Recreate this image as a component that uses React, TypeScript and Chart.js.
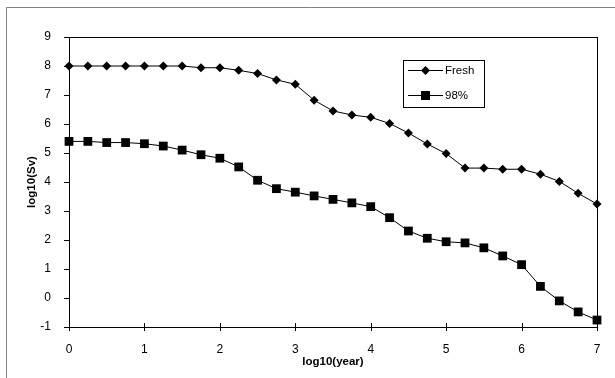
import React, { useEffect, useRef } from "react";
import { Chart, registerables } from "chart.js";

Chart.register(...registerables);

const xValues = [0, 0.25, 0.5, 0.75, 1, 1.25, 1.5, 1.75, 2, 2.25, 2.5, 2.75, 3, 3.25, 3.5, 3.75, 4, 4.25, 4.5, 4.75, 5, 5.25, 5.5, 5.75, 6, 6.25, 6.5, 6.75, 7];
const freshValues = [8.0, 8.0, 8.0, 8.0, 8.0, 8.0, 8.0, 7.94, 7.94, 7.85, 7.74, 7.52, 7.37, 6.82, 6.45, 6.31, 6.23, 6.02, 5.69, 5.31, 4.98, 4.48, 4.48, 4.44, 4.44, 4.27, 4.02, 3.61, 3.24];
const pct98Values = [5.4, 5.4, 5.36, 5.36, 5.32, 5.24, 5.1, 4.94, 4.82, 4.52, 4.06, 3.77, 3.65, 3.52, 3.4, 3.28, 3.15, 2.77, 2.31, 2.06, 1.94, 1.9, 1.73, 1.45, 1.15, 0.4, -0.1, -0.48, -0.76];
const seriesLabels = ["Fresh", "98%"];
const xTitle = "log10(year)";
const yTitle = "log10(Sv)";

const FONT = "'Liberation Sans', Arial, Helvetica, sans-serif";

const decorPlugin = {
  id: "decor",
  beforeDraw(chart: any) {
    const ctx = chart.ctx;
    ctx.save();
    ctx.fillStyle = "#ffffff";
    ctx.fillRect(0, 0, chart.width, chart.height);
    ctx.strokeStyle = "#808080";
    ctx.lineWidth = 1;
    ctx.beginPath();
    ctx.moveTo(6.5, chart.height);
    ctx.lineTo(6.5, 7.5);
    ctx.lineTo(chart.width, 7.5);
    ctx.stroke();
    ctx.restore();
  },
  afterDraw(chart: any) {
    const ctx = chart.ctx;
    const { left, right, top, bottom } = chart.chartArea;
    ctx.save();
    ctx.strokeStyle = "#000";
    ctx.lineWidth = 1;
    ctx.strokeRect(Math.round(left) + 0.5, Math.round(top) + 0.5, Math.round(right - left), Math.round(bottom - top));
    const xs = chart.scales.x;
    const ys = chart.scales.y;
    ctx.beginPath();
    xs.ticks.forEach((t: any) => {
      const px = Math.round(xs.getPixelForValue(t.value)) + 0.5;
      ctx.moveTo(px, bottom - 4);
      ctx.lineTo(px, bottom + 4);
    });
    ys.ticks.forEach((t: any) => {
      const py = Math.round(ys.getPixelForValue(t.value)) + 0.5;
      ctx.moveTo(left - 5, py);
      ctx.lineTo(left, py);
    });
    ctx.stroke();

    // legend
    const lx = 403.5, ly = 60.5, lw = 81, lh = 47;
    ctx.strokeRect(lx, ly, lw, lh);
    const rows = [70.5, 95.5];
    chart.data.datasets.forEach((ds: any, i: number) => {
      const y = rows[i];
      ctx.beginPath();
      ctx.moveTo(408, y);
      ctx.lineTo(443, y);
      ctx.strokeStyle = "#000";
      ctx.lineWidth = 1;
      ctx.stroke();
      ctx.fillStyle = "#000";
      ctx.beginPath();
      if (ds.pointStyle === "rect") {
        ctx.rect(421, y - 4.5, 9, 9);
      } else {
        ctx.moveTo(425.5, y - 4.5);
        ctx.lineTo(430, y);
        ctx.lineTo(425.5, y + 4.5);
        ctx.lineTo(421, y);
        ctx.closePath();
      }
      ctx.fill();
      ctx.font = `11.5px ${FONT}`;
      ctx.textBaseline = "middle";
      ctx.textAlign = "left";
      ctx.fillText(ds.label, 445, y);
    });
    ctx.restore();
  },
};

export default function App() {
  const canvasRef = useRef<HTMLCanvasElement | null>(null);

  useEffect(() => {
    const canvas = canvasRef.current;
    if (!canvas) return;
    const chart = new Chart(canvas, {
      type: "line",
      data: {
        datasets: [
          {
            label: seriesLabels[0],
            data: xValues.map((x, i) => ({ x, y: freshValues[i] })),
            borderColor: "#000",
            backgroundColor: "#000",
            borderWidth: 1,
            pointStyle: "rectRot",
            pointRadius: 4.5,
            pointBorderWidth: 0,
            pointBackgroundColor: "#000",
            tension: 0,
            clip: false,
          },
          {
            label: seriesLabels[1],
            data: xValues.map((x, i) => ({ x, y: pct98Values[i] })),
            borderColor: "#000",
            backgroundColor: "#000",
            borderWidth: 1,
            pointStyle: "rect",
            pointRadius: 6.2,
            pointBorderWidth: 0,
            pointBackgroundColor: "#000",
            tension: 0,
            clip: false,
          },
        ],
      },
      options: {
        responsive: false,
        animation: false,
        devicePixelRatio: 1,
        layout: { padding: { left: 0, top: 37, right: 18, bottom: 0 } },
        plugins: {
          legend: { display: false },
          tooltip: { enabled: false },
        },
        scales: {
          x: {
            type: "linear",
            min: 0,
            max: 7,
            grid: { display: false },
            border: { display: false },
            ticks: {
              stepSize: 1,
              padding: 7,
              color: "#000",
              font: { family: FONT, size: 12 },
              maxRotation: 0,
            },
            title: {
              display: true,
              text: xTitle,
              color: "#000",
              font: { family: FONT, size: 11.5, weight: "bold" },
              padding: { top: 0, bottom: 9 },
            },
            afterFit: (s: any) => {
              s.height = 51;
            },
          },
          y: {
            type: "linear",
            min: -1,
            max: 9,
            grid: { display: false },
            border: { display: false },
            ticks: {
              stepSize: 1,
              padding: 10,
              color: "#000",
              font: { family: FONT, size: 12 },
            },
            title: {
              display: true,
              text: yTitle,
              color: "#000",
              font: { family: FONT, size: 11.5, weight: "bold" },
              padding: { top: 25, bottom: 0 },
            },
            afterFit: (s: any) => {
              s.width = 69;
            },
          },
        },
      },
      plugins: [decorPlugin],
    });
    return () => chart.destroy();
  }, []);

  return (
    <div style={{ position: "fixed", left: 0, top: 0, width: 615, height: 378, background: "#fff" }}>
      <canvas ref={canvasRef} width={615} height={378} style={{ display: "block", width: 615, height: 378 }} />
    </div>
  );
}
